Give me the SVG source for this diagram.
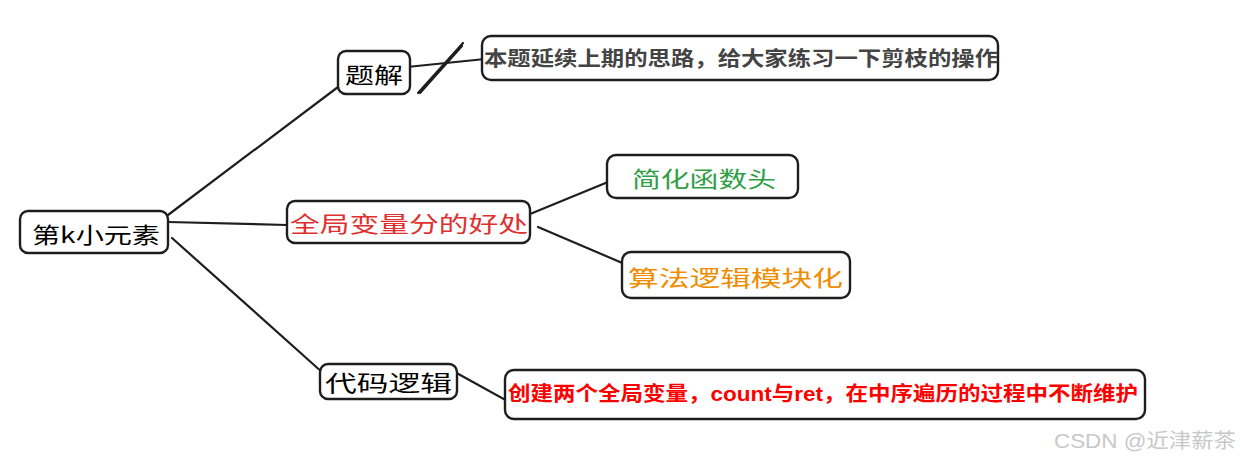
<svg xmlns="http://www.w3.org/2000/svg" width="1240" height="460" viewBox="0 0 1240 460">
<style>
.box{fill:#fff;stroke:#1e1e1e;stroke-width:2.4}
.ln{stroke:#1e1e1e;stroke-width:2.2;fill:none;stroke-linecap:round}
.t{font-family:"Noto Sans CJK SC","Noto Sans",sans-serif;font-size:22px;dominant-baseline:central}
.b{font-family:"Liberation Sans","Noto Sans CJK SC",sans-serif;font-weight:bold;font-size:20px;dominant-baseline:central}
</style>
<rect width="1240" height="460" fill="#fff"/>
<g id="connectors">
<line class="ln" x1="168" y1="215" x2="342" y2="84"/>
<line class="ln" x1="168" y1="222" x2="287" y2="225" stroke-width="3"/>
<line class="ln" x1="172" y1="238" x2="323" y2="373"/>
<line class="ln" x1="407" y1="67" x2="485" y2="59"/>
<line class="ln" x1="418" y1="93" x2="463" y2="43"/>
<line class="ln" x1="420" y1="93" x2="462" y2="46" stroke-width="1"/>
<line class="ln" x1="513" y1="221" x2="608" y2="182"/>
<line class="ln" x1="538" y1="227" x2="627" y2="265"/>
<line class="ln" x1="453" y1="371" x2="511" y2="403"/>
</g>
<g id="root">
<rect class="box" x="20" y="211" width="148" height="42" rx="8"/>
<text class="t" x="32" y="233" textLength="128" lengthAdjust="spacingAndGlyphs">第k小元素</text>
</g>
<g id="tijie">
<rect class="box" x="338" y="51" width="72" height="43" rx="8"/>
<text class="t" x="345" y="73" textLength="58" lengthAdjust="spacingAndGlyphs">题解</text>
</g>
<g id="desc">
<rect class="box" x="482" y="36" width="516" height="44" rx="9"/>
<text class="b" x="484" y="59" fill="#444" font-size="21" textLength="514" lengthAdjust="spacingAndGlyphs">本题延续上期的思路，给大家练习一下剪枝的操作</text>
</g>
<g id="global">
<rect class="box" x="287" y="201" width="243" height="42" rx="8"/>
<text class="t" x="290" y="222" fill="#e03131" font-size="24" textLength="238" lengthAdjust="spacingAndGlyphs">全局变量分的好处</text>
</g>
<g id="simplify">
<rect class="box" x="607" y="155" width="191" height="43" rx="9"/>
<text class="t" x="632" y="177" fill="#2f9e44" font-size="24" textLength="144" lengthAdjust="spacingAndGlyphs">简化函数头</text>
</g>
<g id="modular">
<rect class="box" x="622" y="252" width="228" height="46" rx="9"/>
<text class="t" x="628" y="276" fill="#f08c00" font-size="24" textLength="215" lengthAdjust="spacingAndGlyphs">算法逻辑模块化</text>
</g>
<g id="code">
<rect class="box" x="320" y="364" width="137" height="35" rx="8"/>
<text class="t" x="325" y="381" font-size="24" textLength="127" lengthAdjust="spacingAndGlyphs">代码逻辑</text>
</g>
<g id="codedesc">
<rect class="box" x="505" y="370" width="640" height="49" rx="9"/>
<text class="b" x="508" y="394" fill="#ff0000" font-size="19" textLength="630" lengthAdjust="spacingAndGlyphs">创建两个全局变量，count与ret，在中序遍历的过程中不断维护</text>
</g>
<text x="1054" y="441" font-family="Liberation Sans,Noto Sans CJK SC,sans-serif" font-size="20" fill="#c8c8c8" dominant-baseline="central" textLength="182" lengthAdjust="spacingAndGlyphs">CSDN @近津薪茶</text>
</svg>
